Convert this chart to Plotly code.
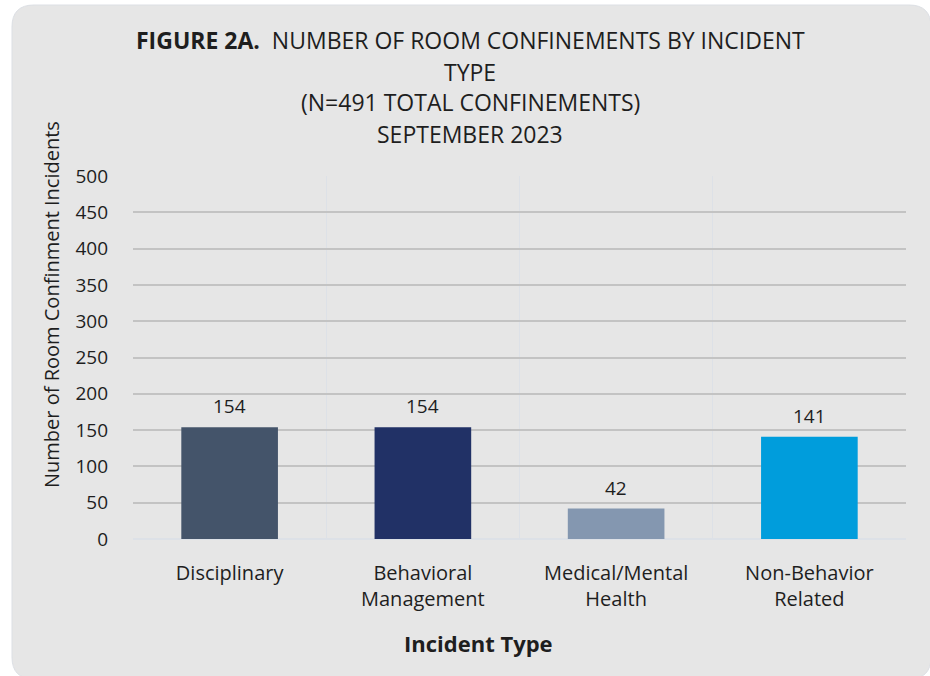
import plotly.graph_objects as go

# data
categories = ["Disciplinary", "Behavioral<br>Management", "Medical/Mental<br>Health", "Non-Behavior<br>Related"]
confinements = [154, 154, 42, 141]
bar_colors = ["#44546a", "#213166", "#8497b0", "#009ddc"]
y_ticks = [0, 50, 100, 150, 200, 250, 300, 350, 400, 450, 500]

title_lines = [
    "<b>FIGURE 2A.</b>\u00a0 NUMBER OF ROOM CONFINEMENTS BY INCIDENT",
    "TYPE",
    "(N=491 TOTAL CONFINEMENTS)",
    "SEPTEMBER 2023",
]

W, H = 930, 676
plot_l, plot_r, plot_t, plot_b = 133, 906, 176, 539  # pixels
L, R, T, B = plot_l, W - plot_r, plot_t, H - plot_b
pw, ph = W - L - R, H - T - B

def px_x(x):
    return (x - L) / pw

def px_y(y):
    return (H - B - y) / ph

font_family = "Open Sans, Noto Sans, sans-serif"
txt = "#1e1e1e"

fig = go.Figure()
fig.add_trace(go.Bar(
    x=categories, y=confinements,
    marker_color=bar_colors, marker_line_width=0,
    width=0.5,
))

# value labels above the bars
for cat, val in zip(categories, confinements):
    fig.add_annotation(x=cat, y=val, text=str(val), yanchor="bottom", yshift=6,
                       showarrow=False, font=dict(size=19, color=txt))

# rounded grey panel behind everything
x0, x1, y0, y1, r = 12, 931, 5, 679, 22
path = (
    f"M {px_x(x0 + r)} {px_y(y0)} L {px_x(x1 - r)} {px_y(y0)} "
    f"Q {px_x(x1)} {px_y(y0)} {px_x(x1)} {px_y(y0 + r)} "
    f"L {px_x(x1)} {px_y(y1 - r)} Q {px_x(x1)} {px_y(y1)} {px_x(x1 - r)} {px_y(y1)} "
    f"L {px_x(x0 + r)} {px_y(y1)} Q {px_x(x0)} {px_y(y1)} {px_x(x0)} {px_y(y1 - r)} "
    f"L {px_x(x0)} {px_y(y0 + r)} Q {px_x(x0)} {px_y(y0)} {px_x(x0 + r)} {px_y(y0)} Z"
)
fig.add_shape(type="path", path=path, xref="paper", yref="paper",
              fillcolor="#e6e6e6", line=dict(color="#dcdfe4", width=1), layer="below")

title_y = [40, 72, 102, 134]
for line, ty in zip(title_lines, title_y):
    fig.add_annotation(text=line, xref="paper", yref="paper",
                       x=px_x(470), y=px_y(ty), xanchor="center", yanchor="middle",
                       showarrow=False, font=dict(size=23, color=txt, family=font_family))

# axis titles sit off-centre in the reference, so place them by hand
fig.add_annotation(text="<b>Incident Type</b>", xref="paper", yref="paper",
                   x=px_x(478), y=px_y(643), xanchor="center", yanchor="middle",
                   showarrow=False, font=dict(size=22, color=txt))
fig.add_annotation(text="Number of Room Confinment Incidents", xref="paper", yref="paper",
                   x=px_x(51), y=px_y(305), xanchor="center", yanchor="middle", textangle=-90,
                   showarrow=False, font=dict(size=20, color=txt))

fig.update_layout(
    width=W, height=H,
    margin=dict(l=L, r=R, t=T, b=B),
    paper_bgcolor="white",
    plot_bgcolor="rgba(0,0,0,0)",
    font=dict(family=font_family, color=txt),
    showlegend=False,
)
fig.update_xaxes(
    tickson="boundaries", showgrid=True, gridcolor="#dde1e7", gridwidth=1,
    ticks="", tickfont=dict(size=20, color=txt), ticklabelstandoff=20,
    showline=False,
)
fig.update_yaxes(
    range=[0, 500], tickvals=y_ticks,
    showgrid=True, gridcolor="#c3c3c3", gridwidth=1.5,
    zeroline=True, zerolinecolor="#dde1e7", zerolinewidth=1.5,
    tickfont=dict(size=19, color=txt), ticklabelstandoff=24,
)

fig.write_html("out.html", config={"displayModeBar": False},
               post_script="document.body.style.margin='0';document.body.style.overflow='hidden';")
